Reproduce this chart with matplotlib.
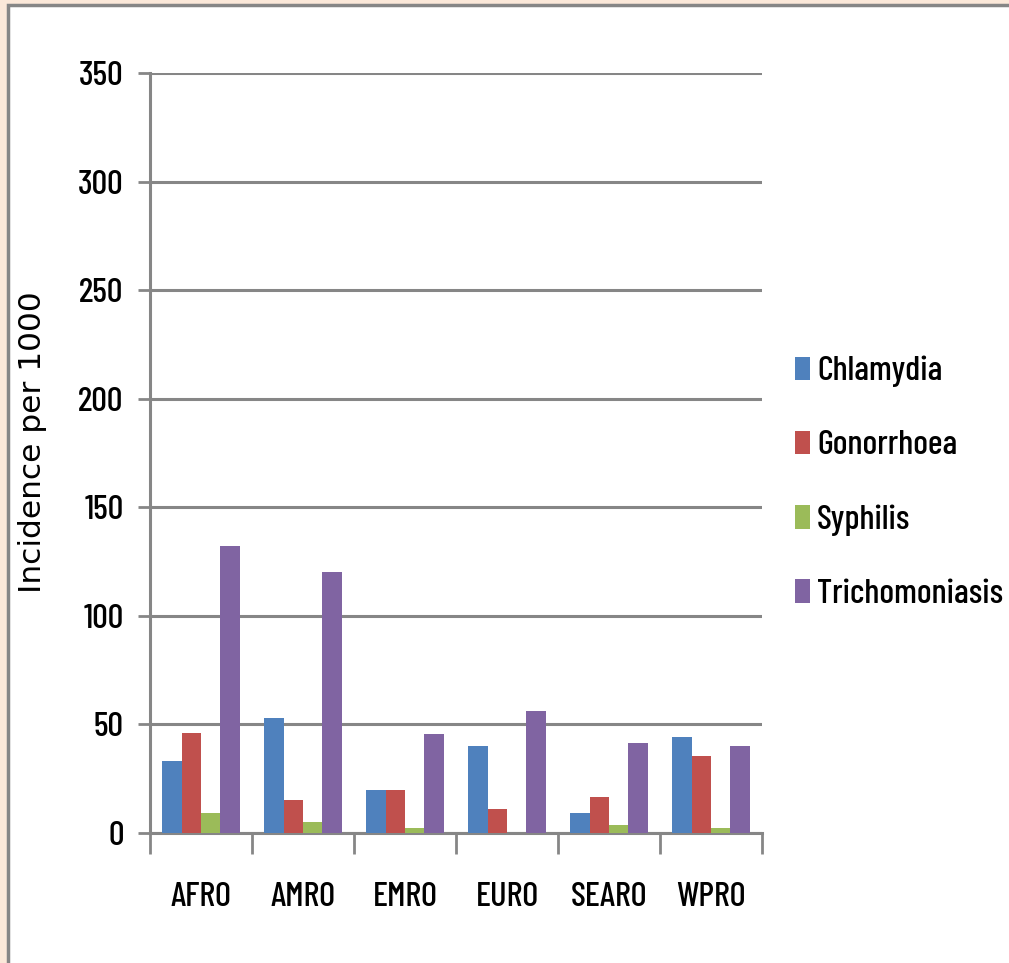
import numpy as np
import matplotlib.pyplot as plt
from matplotlib.patches import Rectangle

# Incidencia de ITS por región de la OMS (por 1000)
regiones = ['AFRO', 'AMRO', 'EMRO', 'EURO', 'SEARO', 'WPRO']
chlamydia = [33, 53, 20, 40, 9, 44]
gonorrhoea = [46, 15, 20, 11, 16.5, 35.5]
syphilis = [9, 5, 2.3, 0, 3.7, 2.3]
trichomoniasis = [132, 120, 45.5, 56, 41.5, 40]

series = [('Chlamydia', chlamydia, '#4f81bd'),
          ('Gonorrhoea', gonorrhoea, '#c0504d'),
          ('Syphilis', syphilis, '#9bbb59'),
          ('Trichomoniasis', trichomoniasis, '#8064a2')]

narrow = ['Barlow Condensed', 'Liberation Sans', 'DejaVu Sans']
gris = '#868686'
tam = 25
peso = 500

fig = plt.figure(figsize=(10.09, 9.63), dpi=100)
fig.patch.set_facecolor('#fbe8d9')

# panel blanco con borde gris
panel = Rectangle((8 / 1009, -0.05), 1.1, 1 - 5 / 963 + 0.05,
                  transform=fig.transFigure, facecolor='white',
                  edgecolor=gris, linewidth=2.5, zorder=-5)
fig.patches.append(panel)

ax = fig.add_axes([150 / 1009, 1 - 833 / 963, 612 / 1009, 760 / 963])
ax.set_facecolor('none')

x = np.arange(len(regiones))
ancho = 0.19
for i, (nombre, valores, color) in enumerate(series):
    ax.bar(x + (i - 1.5) * ancho, valores, ancho, color=color,
           label=nombre, zorder=3)

ax.set_xlim(-0.5, len(regiones) - 0.5)
ax.set_ylim(0, 350)
ax.set_yticks(range(0, 351, 50))
ax.yaxis.grid(True, color=gris, linewidth=2.2, zorder=1)

ax.set_xticks(x)
ax.set_xticklabels(regiones, family=narrow, fontsize=tam, fontweight=peso)
ax.set_xticks(np.arange(-0.5, len(regiones)), minor=True)
ax.tick_params(axis='x', which='major', length=0, pad=35)
ax.tick_params(axis='x', which='minor', length=15, width=2, color=gris)
ax.tick_params(axis='y', length=9, width=2, color=gris, pad=10)
for lbl in ax.get_yticklabels():
    lbl.set_family(narrow)
    lbl.set_fontsize(tam)
    lbl.set_fontweight(peso)

for lado in ['top', 'right']:
    ax.spines[lado].set_visible(False)
for lado in ['left', 'bottom']:
    ax.spines[lado].set_color(gris)
    ax.spines[lado].set_linewidth(2.2)

ax.set_ylabel('Incidence per 1000', fontsize=22.5)
ax.yaxis.set_label_coords(-103 / 612, 0.514)

fig.legend(loc='center left', bbox_to_anchor=(764 / 1009, 1 - 483 / 963),
           frameon=False,
           prop={'family': narrow, 'size': tam, 'weight': peso},
           handlelength=0.43, handleheight=0.66, handletextpad=0.2,
           labelspacing=1.24)

fig.savefig('out.png', dpi=100, facecolor=fig.get_facecolor())
